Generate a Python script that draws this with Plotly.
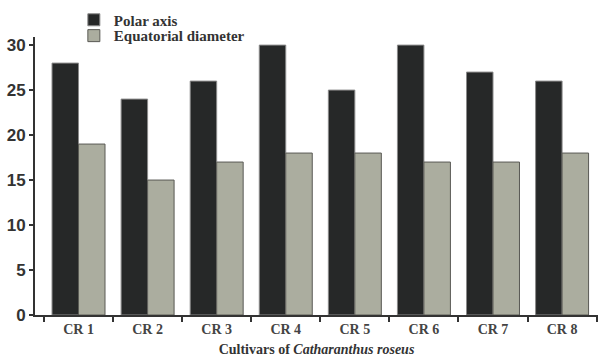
import plotly.graph_objects as go

categories = ["CR 1", "CR 2", "CR 3", "CR 4", "CR 5", "CR 6", "CR 7", "CR 8"]
polar_axis = [28, 24, 26, 30, 25, 30, 27, 26]
equatorial_diameter = [19, 15, 17, 18, 18, 17, 17, 18]
y_ticks = [0, 5, 10, 15, 20, 25, 30]

fig = go.Figure()
fig.add_trace(go.Bar(x=categories, y=polar_axis, name="Polar axis", legend="legend",
                     marker=dict(color="#262828", line=dict(color="#8a8a8a", width=1))))
fig.add_trace(go.Bar(x=categories, y=equatorial_diameter, name="Equatorial diameter", legend="legend2",
                     marker=dict(color="#abad9f", line=dict(color="#5a5a55", width=1))))

leg_common = dict(xanchor="left", yanchor="middle",
                  font=dict(family="Liberation Serif", size=15, color="#333", weight="bold"),
                  bgcolor="rgba(0,0,0,0)", itemwidth=30)

fig.update_layout(
    width=598, height=362,
    margin=dict(l=35, r=0, t=37, b=47),
    paper_bgcolor="white", plot_bgcolor="white",
    barmode="group", bargap=0.233, bargroupgap=0,
    showlegend=True,
    legend=dict(x=0.069, y=1.061, **leg_common),
    legend2=dict(x=0.069, y=1.004, **leg_common),
    xaxis=dict(range=[-0.63, 7.52], showline=True, linecolor="#333", linewidth=2,
               ticks="outside", tickson="boundaries", ticklen=5, tickwidth=2, tickcolor="#333",
               tickfont=dict(family="Liberation Serif", size=14, color="#444", weight="bold"),
               title=dict(text="<b>Cultivars of <i>Catharanthus roseus</i></b>",
                          font=dict(family="Liberation Serif", size=14, color="#333"),
                          standoff=8),
               automargin=False,
               showgrid=False, zeroline=False),
    yaxis=dict(range=[0, 30.9], showline=True, linecolor="#333", linewidth=2,
               tickvals=y_ticks, ticks="outside", ticklen=4, tickwidth=2, tickcolor="#333",
               tickfont=dict(family="Liberation Sans Narrow, Liberation Sans", size=17, color="#333",
                             weight="bold"),
               automargin=False,
               showgrid=False, zeroline=False),
)

fig.write_html("out.html", config={"displayModeBar": False},
               post_script="document.body.style.margin='0';")
